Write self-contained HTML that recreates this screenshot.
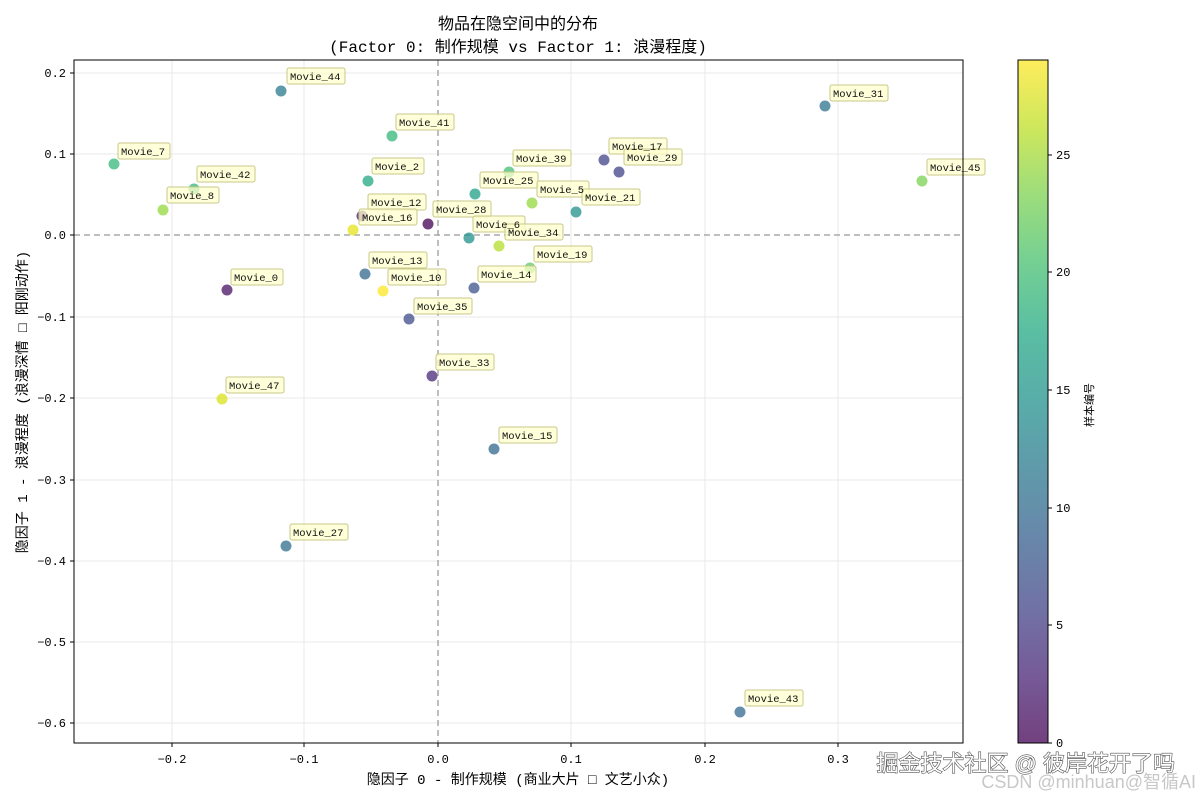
<!DOCTYPE html><html><head><meta charset="utf-8"><style>body{margin:0;background:#fff}svg{display:block}</style></head><body>
<svg width="1200" height="800" xmlns="http://www.w3.org/2000/svg" font-family="'Liberation Sans','WenQuanYi Zen Hei','Noto Sans CJK SC',sans-serif">
<defs><linearGradient id="vir" x1="0" y1="1" x2="0" y2="0">
<stop offset="0" stop-color="#440154"/><stop offset="0.1" stop-color="#482475"/><stop offset="0.2" stop-color="#414487"/><stop offset="0.3" stop-color="#355f8d"/><stop offset="0.4" stop-color="#2a788e"/><stop offset="0.5" stop-color="#21918c"/><stop offset="0.6" stop-color="#22a884"/><stop offset="0.7" stop-color="#44bf70"/><stop offset="0.8" stop-color="#7ad151"/><stop offset="0.9" stop-color="#bddf26"/><stop offset="1" stop-color="#fde725"/></linearGradient></defs>
<text x="518" y="29" font-size="16" text-anchor="middle">物品在隐空间中的分布</text>
<text x="518" y="52" font-size="16" text-anchor="middle" font-family="'Liberation Mono','WenQuanYi Zen Hei',monospace">(Factor 0: 制作规模 vs Factor 1: 浪漫程度)</text>
<g stroke="#e8e8e8" stroke-width="1">
<line x1="172" y1="60" x2="172" y2="743"/><line x1="304" y1="60" x2="304" y2="743"/><line x1="571" y1="60" x2="571" y2="743"/><line x1="705" y1="60" x2="705" y2="743"/><line x1="838" y1="60" x2="838" y2="743"/>
<line x1="74" y1="73" x2="963" y2="73"/><line x1="74" y1="154" x2="963" y2="154"/><line x1="74" y1="317" x2="963" y2="317"/><line x1="74" y1="398" x2="963" y2="398"/><line x1="74" y1="480" x2="963" y2="480"/><line x1="74" y1="561" x2="963" y2="561"/><line x1="74" y1="642" x2="963" y2="642"/><line x1="74" y1="723" x2="963" y2="723"/>
</g>
<g stroke="#aaa" stroke-width="1.5" stroke-dasharray="6,4"><line x1="438" y1="60" x2="438" y2="743"/><line x1="74" y1="235" x2="963" y2="235"/></g>
<g opacity="0.75">
<circle cx="281" cy="91" r="5.5" fill="#2a788e"/><circle cx="825" cy="106" r="5.5" fill="#2c728e"/><circle cx="392" cy="136" r="5.5" fill="#35b779"/><circle cx="114" cy="164" r="5.5" fill="#35b779"/><circle cx="604" cy="160" r="5.5" fill="#414487"/><circle cx="619" cy="172" r="5.5" fill="#414487"/><circle cx="922" cy="181" r="5.5" fill="#7ad151"/><circle cx="509" cy="172" r="5.5" fill="#44bf70"/><circle cx="368" cy="181" r="5.5" fill="#22a884"/><circle cx="194" cy="189" r="5.5" fill="#35b779"/><circle cx="475" cy="194" r="5.5" fill="#1fa088"/><circle cx="532" cy="203" r="5.5" fill="#95d840"/><circle cx="163" cy="210" r="5.5" fill="#95d840"/><circle cx="576" cy="212" r="5.5" fill="#21918c"/><circle cx="362" cy="216" r="5.5" fill="#471164"/><circle cx="428" cy="224" r="5.5" fill="#440154"/><circle cx="353" cy="230" r="5.5" fill="#e5e419"/><circle cx="469" cy="238" r="5.5" fill="#21918c"/><circle cx="499" cy="246" r="5.5" fill="#b5de2b"/><circle cx="530" cy="268" r="5.5" fill="#5ec962"/><circle cx="227" cy="290" r="5.5" fill="#471164"/><circle cx="365" cy="274" r="5.5" fill="#31688e"/><circle cx="383" cy="291" r="5.5" fill="#fde725"/><circle cx="474" cy="288" r="5.5" fill="#3b528b"/><circle cx="409" cy="319" r="5.5" fill="#3e4a89"/><circle cx="432" cy="376" r="5.5" fill="#482878"/><circle cx="222" cy="399" r="5.5" fill="#d8e219"/><circle cx="494" cy="449" r="5.5" fill="#31688e"/><circle cx="286" cy="546" r="5.5" fill="#2f6c8e"/><circle cx="740" cy="712" r="5.5" fill="#31688e"/>
</g>
<g font-family="'Liberation Mono',monospace" font-size="10.5">
<g fill="#ffffcc" fill-opacity="0.75" stroke="#c8c88a" stroke-width="1">
<rect x="287" y="68" width="58" height="16" rx="2"/><rect x="830" y="85" width="58" height="16" rx="2"/><rect x="396" y="114" width="58" height="16" rx="2"/><rect x="118" y="143" width="52" height="16" rx="2"/><rect x="609" y="138" width="58" height="16" rx="2"/><rect x="624" y="149" width="58" height="16" rx="2"/><rect x="927" y="159" width="58" height="16" rx="2"/><rect x="513" y="150" width="58" height="16" rx="2"/><rect x="372" y="158" width="52" height="16" rx="2"/><rect x="197" y="166" width="58" height="16" rx="2"/><rect x="480" y="172" width="58" height="16" rx="2"/><rect x="537" y="181" width="52" height="16" rx="2"/><rect x="167" y="187" width="52" height="16" rx="2"/><rect x="582" y="189" width="58" height="16" rx="2"/><rect x="368" y="194" width="58" height="16" rx="2"/><rect x="433" y="201" width="58" height="16" rx="2"/><rect x="359" y="209" width="58" height="16" rx="2"/><rect x="473" y="216" width="52" height="16" rx="2"/><rect x="505" y="224" width="58" height="16" rx="2"/><rect x="534" y="246" width="58" height="16" rx="2"/><rect x="231" y="269" width="52" height="16" rx="2"/><rect x="369" y="252" width="58" height="16" rx="2"/><rect x="388" y="269" width="58" height="16" rx="2"/><rect x="478" y="266" width="58" height="16" rx="2"/><rect x="414" y="298" width="58" height="16" rx="2"/><rect x="436" y="354" width="58" height="16" rx="2"/><rect x="226" y="377" width="58" height="16" rx="2"/><rect x="499" y="427" width="58" height="16" rx="2"/><rect x="290" y="524" width="58" height="16" rx="2"/><rect x="745" y="690" width="58" height="16" rx="2"/>
</g>
<g fill="#111">
<text x="290" y="80">Movie_44</text><text x="833" y="97">Movie_31</text><text x="399" y="126">Movie_41</text><text x="121" y="155">Movie_7</text><text x="612" y="150">Movie_17</text><text x="627" y="161">Movie_29</text><text x="930" y="171">Movie_45</text><text x="516" y="162">Movie_39</text><text x="375" y="170">Movie_2</text><text x="200" y="178">Movie_42</text><text x="483" y="184">Movie_25</text><text x="540" y="193">Movie_5</text><text x="170" y="199">Movie_8</text><text x="585" y="201">Movie_21</text><text x="371" y="206">Movie_12</text><text x="436" y="213">Movie_28</text><text x="362" y="221">Movie_16</text><text x="476" y="228">Movie_6</text><text x="508" y="236">Movie_34</text><text x="537" y="258">Movie_19</text><text x="234" y="281">Movie_0</text><text x="372" y="264">Movie_13</text><text x="391" y="281">Movie_10</text><text x="481" y="278">Movie_14</text><text x="417" y="310">Movie_35</text><text x="439" y="366">Movie_33</text><text x="229" y="389">Movie_47</text><text x="502" y="439">Movie_15</text><text x="293" y="536">Movie_27</text><text x="748" y="702">Movie_43</text>
</g></g>
<rect x="74" y="60" width="889" height="683" fill="none" stroke="#000" stroke-width="1"/>
<g font-family="'Liberation Mono',monospace" font-size="12" fill="#000">
<g text-anchor="middle"><text x="172" y="763">−0.2</text><text x="304" y="763">−0.1</text><text x="438" y="763">0.0</text><text x="571" y="763">0.1</text><text x="705" y="763">0.2</text><text x="838" y="763">0.3</text></g>
<g text-anchor="end"><text x="66" y="77">0.2</text><text x="66" y="158">0.1</text><text x="66" y="239">0.0</text><text x="66" y="321">−0.1</text><text x="66" y="402">−0.2</text><text x="66" y="484">−0.3</text><text x="66" y="565">−0.4</text><text x="66" y="646">−0.5</text><text x="66" y="727">−0.6</text></g>
</g>
<g stroke="#000"><line x1="172" y1="743" x2="172" y2="747"/><line x1="304" y1="743" x2="304" y2="747"/><line x1="438" y1="743" x2="438" y2="747"/><line x1="571" y1="743" x2="571" y2="747"/><line x1="705" y1="743" x2="705" y2="747"/><line x1="838" y1="743" x2="838" y2="747"/>
<line x1="70" y1="73" x2="74" y2="73"/><line x1="70" y1="154" x2="74" y2="154"/><line x1="70" y1="235" x2="74" y2="235"/><line x1="70" y1="317" x2="74" y2="317"/><line x1="70" y1="398" x2="74" y2="398"/><line x1="70" y1="480" x2="74" y2="480"/><line x1="70" y1="561" x2="74" y2="561"/><line x1="70" y1="642" x2="74" y2="642"/><line x1="70" y1="723" x2="74" y2="723"/></g>
<text x="518" y="784" font-size="14" text-anchor="middle" font-family="'Liberation Mono','WenQuanYi Zen Hei',monospace">隐因子 0 - 制作规模 (商业大片 □ 文艺小众)</text>
<text transform="translate(27,402) rotate(-90)" font-size="14" text-anchor="middle" font-family="'Liberation Mono','WenQuanYi Zen Hei',monospace">隐因子 1 - 浪漫程度 (浪漫深情 □ 阳刚动作)</text>
<rect x="1018" y="60" width="30" height="683" fill="url(#vir)" opacity="0.75"/>
<rect x="1018" y="60" width="30" height="683" fill="none" stroke="#000"/>
<g stroke="#000"><line x1="1048" y1="743" x2="1052" y2="743"/><line x1="1048" y1="625" x2="1052" y2="625"/><line x1="1048" y1="508" x2="1052" y2="508"/><line x1="1048" y1="390" x2="1052" y2="390"/><line x1="1048" y1="272" x2="1052" y2="272"/><line x1="1048" y1="155" x2="1052" y2="155"/></g>
<g font-family="'Liberation Mono',monospace" font-size="12"><text x="1056" y="747">0</text><text x="1056" y="629">5</text><text x="1056" y="512">10</text><text x="1056" y="394">15</text><text x="1056" y="276">20</text><text x="1056" y="159">25</text></g>
<text transform="translate(1093,405) rotate(-90)" font-size="11" text-anchor="middle">样本编号</text>
<text x="1175" y="771" font-size="22" text-anchor="end" fill="#fff" stroke="#555" stroke-width="1.2" paint-order="stroke">掘金技术社区 @ 彼岸花开了吗</text>
<text x="1196" y="788" font-size="18" text-anchor="end" fill="#c8c8c8">CSDN @minhuan@智循AI</text>
</svg></body></html>
